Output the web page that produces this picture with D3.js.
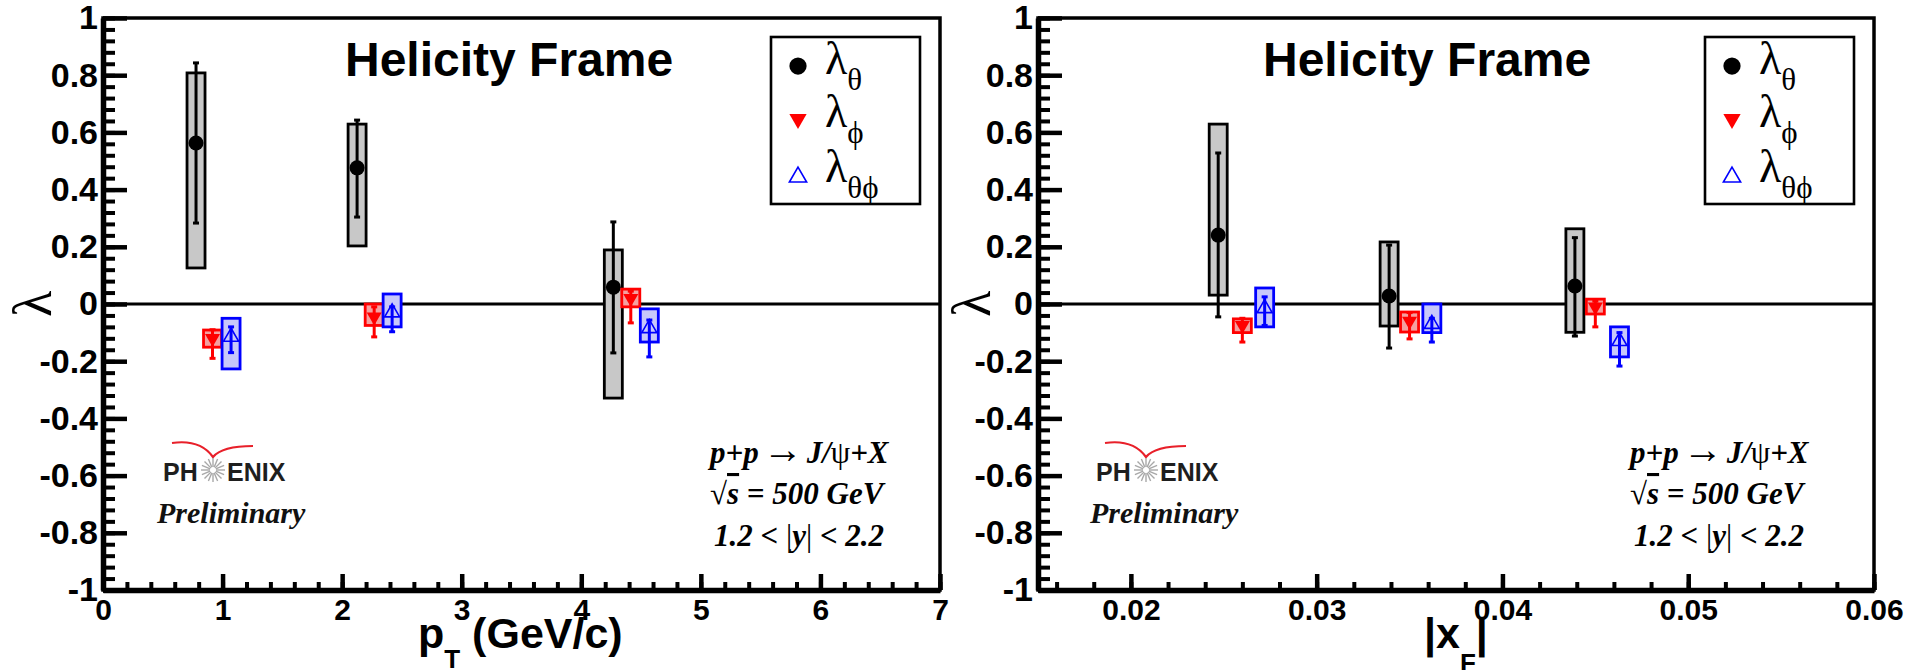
<!DOCTYPE html>
<html>
<head>
<meta charset="utf-8">
<script src="https://cdn.jsdelivr.net/npm/d3@7"></script>
<style>
  html, body { margin: 0; padding: 0; background: #ffffff; }
  svg { display: block; }
</style>
</head>
<body>
<svg id="chart" width="1922" height="670"></svg>
<script>
// ---- shared lambda axis ----
const lambdaTicks = [-1, -0.8, -0.6, -0.4, -0.2, 0, 0.2, 0.4, 0.6, 0.8, 1];
const lambdaTickLabels = ["-1", "-0.8", "-0.6", "-0.4", "-0.2", "0", "0.2", "0.4", "0.6", "0.8", "1"];

// ---- pT panel ----
const ptTicks = [0, 1, 2, 3, 4, 5, 6, 7];
const ptTickLabels = ["0", "1", "2", "3", "4", "5", "6", "7"];

const ptThetaX      = [0.778, 2.125, 4.268];
const ptThetaVal    = [0.563, 0.476, 0.059];
const ptThetaStatLo = [0.283, 0.304, -0.171];
const ptThetaStatHi = [0.843, 0.643, 0.287];
const ptThetaSysLo  = [0.126, 0.203, -0.329];
const ptThetaSysHi  = [0.808, 0.629, 0.189];

const ptPhiX      = [0.916, 2.268, 4.414];
const ptPhiVal    = [-0.120, -0.045, 0.020];
const ptPhiStatLo = [-0.190, -0.115, -0.066];
const ptPhiStatHi = [-0.090, -0.010, 0.045];
const ptPhiSysLo  = [-0.151, -0.075, -0.010];
const ptPhiSysHi  = [-0.091, 0.000, 0.052];

const ptThetaPhiX      = [1.071, 2.418, 4.569];
const ptThetaPhiVal    = [-0.115, -0.030, -0.085];
const ptThetaPhiStatLo = [-0.170, -0.097, -0.185];
const ptThetaPhiStatHi = [-0.080, -0.010, -0.056];
const ptThetaPhiSysLo  = [-0.227, -0.080, -0.133];
const ptThetaPhiSysHi  = [-0.050, 0.035, -0.017];

// ---- |xF| panel ----
const xfTicks = [0.02, 0.03, 0.04, 0.05, 0.06];
const xfTickLabels = ["0.02", "0.03", "0.04", "0.05", "0.06"];

const xfThetaX      = [0.0247, 0.0339, 0.0439];
const xfThetaVal    = [0.241, 0.028, 0.063];
const xfThetaStatLo = [-0.045, -0.154, -0.112];
const xfThetaStatHi = [0.528, 0.206, 0.232];
const xfThetaSysLo  = [0.031, -0.077, -0.099];
const xfThetaSysHi  = [0.629, 0.217, 0.263];

const xfPhiX      = [0.0260, 0.0350, 0.0450];
const xfPhiVal    = [-0.075, -0.060, -0.010];
const xfPhiStatLo = [-0.133, -0.122, -0.080];
const xfPhiStatHi = [-0.050, -0.030, 0.010];
const xfPhiSysLo  = [-0.100, -0.098, -0.035];
const xfPhiSysHi  = [-0.052, -0.028, 0.017];

const xfThetaPhiX      = [0.0272, 0.0362, 0.0463];
const xfThetaPhiVal    = [-0.015, -0.070, -0.130];
const xfThetaPhiStatLo = [-0.075, -0.133, -0.217];
const xfThetaPhiStatHi = [0.025, -0.050, -0.100];
const xfThetaPhiSysLo  = [-0.080, -0.100, -0.185];
const xfThetaPhiSysHi  = [0.056, 0.000, -0.080];

// ---- styles ----
const SANS = "'Liberation Sans', Arial, Helvetica, sans-serif";
const SERIF = "'Liberation Serif', 'Times New Roman', Times, serif";

const seriesStyle = {
  theta:    { box: "#c8c8c8", edge: "#000000", color: "#000000", bar: 3 },
  phi:      { box: "#f4a0a0", edge: "#ff0000", color: "#ff0000", bar: 3 },
  thetaPhi: { box: "#c8c8fa", edge: "#0000ff", color: "#0000ff", bar: 3 }
};
const BOX_W = 18;

function buildSeries(kind, xs, val, sLo, sHi, yLo, yHi) {
  return xs.map((x, i) => ({ kind, x, v: val[i], statLo: sLo[i], statHi: sHi[i], sysLo: yLo[i], sysHi: yHi[i] }));
}

const panels = [
  {
    left: 103, right: 940, top: 18, bottom: 590,
    xDomain: [0, 7], xTicks: ptTicks, xTickLabels: ptTickLabels,
    xMinor: d3.range(0, 36).map(i => i * 0.2),
    titleX: 242, annX: 607, lambdaX: -70, logoX: 0, xTitle: "pt",
    series: [
      buildSeries("theta", ptThetaX, ptThetaVal, ptThetaStatLo, ptThetaStatHi, ptThetaSysLo, ptThetaSysHi),
      buildSeries("phi", ptPhiX, ptPhiVal, ptPhiStatLo, ptPhiStatHi, ptPhiSysLo, ptPhiSysHi),
      buildSeries("thetaPhi", ptThetaPhiX, ptThetaPhiVal, ptThetaPhiStatLo, ptThetaPhiStatHi, ptThetaPhiSysLo, ptThetaPhiSysHi)
    ]
  },
  {
    left: 1038, right: 1874, top: 18, bottom: 590,
    xDomain: [0.015, 0.06], xTicks: xfTicks, xTickLabels: xfTickLabels,
    xMinor: d3.range(8, 31).map(i => i * 0.002),
    titleX: 225, annX: 592, lambdaX: -66, logoX: -2, xTitle: "xf",
    series: [
      buildSeries("theta", xfThetaX, xfThetaVal, xfThetaStatLo, xfThetaStatHi, xfThetaSysLo, xfThetaSysHi),
      buildSeries("phi", xfPhiX, xfPhiVal, xfPhiStatLo, xfPhiStatHi, xfPhiSysLo, xfPhiSysHi),
      buildSeries("thetaPhi", xfThetaPhiX, xfThetaPhiVal, xfThetaPhiStatLo, xfThetaPhiStatHi, xfThetaPhiSysLo, xfThetaPhiSysHi)
    ]
  }
];

const svg = d3.select("#chart");
const triArea = side => Math.sqrt(3) / 4 * side * side;

function drawMarker(sel, kind, cx, cy, scale) {
  const s = scale || 1;
  if (kind === "theta") {
    sel.append("circle").attr("cx", cx).attr("cy", cy).attr("r", 7.5 * s).attr("fill", "#000");
  } else if (kind === "phi") {
    sel.append("path")
      .attr("d", d3.symbol(d3.symbolTriangle, triArea(15 * s))())
      .attr("transform", `translate(${cx},${cy}) rotate(180)`)
      .attr("fill", "#ff0000");
  } else {
    sel.append("path")
      .attr("d", d3.symbol(d3.symbolTriangle, triArea(15 * s))())
      .attr("transform", `translate(${cx},${cy})`)
      .attr("fill", "none").attr("stroke", "#0000ff").attr("stroke-width", 1.6);
  }
}

function drawLogo(g, ox) {
  const lg = g.append("g").attr("transform", `translate(${ox},0)`);
  // red swoosh
  lg.append("path")
    .attr("d", "M69,425 Q97,421 110,439 Q119,428 150,428")
    .attr("fill", "none").attr("stroke", "#e8202a").attr("stroke-width", 2.2);
  lg.append("text").attr("x", 60).attr("y", 463)
    .attr("font-family", SANS).attr("font-weight", "bold").attr("font-size", 25)
    .attr("fill", "#1e1e1e").text("PH");
  lg.append("text").attr("x", 124).attr("y", 463)
    .attr("font-family", SANS).attr("font-weight", "bold").attr("font-size", 25)
    .attr("fill", "#1e1e1e").text("ENIX");
  // starburst
  const rays = d3.range(16).map(i => i * Math.PI / 8);
  lg.selectAll("line.ray").data(rays).enter().append("line")
    .attr("class", "ray")
    .attr("x1", a => 110 + 3 * Math.cos(a)).attr("y1", a => 452 + 3 * Math.sin(a))
    .attr("x2", a => 110 + 12 * Math.cos(a)).attr("y2", a => 452 + 12 * Math.sin(a))
    .attr("stroke", "#a8a8a8").attr("stroke-width", 1.4);
  lg.append("text").attr("x", 54).attr("y", 505)
    .attr("font-family", SERIF).attr("font-weight", "bold").attr("font-style", "italic")
    .attr("font-size", 30).attr("fill", "#111").text("Preliminary");
}

panels.forEach(p => {
  const w = p.right - p.left, h = p.bottom - p.top;
  const g = svg.append("g").attr("transform", `translate(${p.left},${p.top})`);
  const x = d3.scaleLinear().domain(p.xDomain).range([0, w]);
  const y = d3.scaleLinear().domain([-1, 1]).range([h, 0]);

  // frame
  g.append("rect").attr("width", w).attr("height", h)
    .attr("fill", "none").attr("stroke", "#000").attr("stroke-width", 3.5);

  // lambda = 0 reference line
  g.append("line").attr("x1", 0).attr("x2", w).attr("y1", y(0)).attr("y2", y(0))
    .attr("stroke", "#000").attr("stroke-width", 3.2);

  // title
  g.append("text").attr("x", p.titleX).attr("y", 58)
    .attr("font-family", SANS).attr("font-weight", "bold").attr("font-size", 48)
    .attr("fill", "#000").text("Helicity Frame");

  // data: systematic boxes, statistical bars, markers
  p.series.forEach(series => {
    const st = seriesStyle[series[0].kind];
    const sg = g.append("g").attr("class", "series-" + series[0].kind);
    sg.selectAll("rect.sys").data(series).enter().append("rect")
      .attr("class", "sys")
      .attr("x", d => x(d.x) - BOX_W / 2).attr("width", BOX_W)
      .attr("y", d => y(d.sysHi)).attr("height", d => y(d.sysLo) - y(d.sysHi))
      .attr("fill", st.box).attr("stroke", st.edge).attr("stroke-width", 2.8);
    sg.selectAll("line.stat").data(series).enter().append("line")
      .attr("class", "stat")
      .attr("x1", d => x(d.x)).attr("x2", d => x(d.x))
      .attr("y1", d => y(d.statLo)).attr("y2", d => y(d.statHi))
      .attr("stroke", st.color).attr("stroke-width", st.bar);
    ["statLo", "statHi"].forEach(k => {
      sg.selectAll("line.cap-" + k).data(series).enter().append("line")
        .attr("class", "cap-" + k)
        .attr("x1", d => x(d.x) - 3).attr("x2", d => x(d.x) + 3)
        .attr("y1", d => y(d[k])).attr("y2", d => y(d[k]))
        .attr("stroke", st.color).attr("stroke-width", 3);
    });
    series.forEach(d => drawMarker(sg, d.kind, x(d.x), y(d.v)));
  });

  // y axis: minor then major ticks, drawn inward
  const yMinor = d3.range(0, 51).map(i => -1 + i * 0.04);
  g.append("g")
    .call(d3.axisLeft(y).tickValues(yMinor).tickSize(-12).tickSizeOuter(0).tickFormat(""))
    .call(a => a.selectAll("line").attr("stroke-width", 4))
    .call(a => a.select(".domain").remove());
  const yAxis = g.append("g")
    .call(d3.axisLeft(y).tickValues(lambdaTicks).tickSize(-24).tickSizeOuter(0).tickPadding(5)
      .tickFormat((d, i) => lambdaTickLabels[i]));
  yAxis.selectAll("line").attr("stroke-width", 4.5);
  yAxis.select(".domain").attr("stroke-width", 5.5);
  yAxis.selectAll("text").attr("font-family", SANS).attr("font-weight", "bold")
    .attr("font-size", 34).attr("fill", "#000");

  // x axis
  g.append("g").attr("transform", `translate(0,${h})`)
    .call(d3.axisBottom(x).tickValues(p.xMinor).tickSize(-8).tickSizeOuter(0).tickFormat(""))
    .call(a => a.selectAll("line").attr("stroke-width", 4))
    .call(a => a.select(".domain").remove());
  const xAxis = g.append("g").attr("transform", `translate(0,${h})`)
    .call(d3.axisBottom(x).tickValues(p.xTicks).tickSize(-16).tickSizeOuter(0).tickPadding(9)
      .tickFormat((d, i) => p.xTickLabels[i]));
  xAxis.selectAll("line").attr("stroke-width", 4.5);
  xAxis.select(".domain").attr("stroke-width", 5.5);
  xAxis.selectAll("text").attr("font-family", SANS).attr("font-weight", "bold")
    .attr("font-size", 30).attr("fill", "#000");

  // lambda axis title
  g.append("text")
    .attr("transform", `translate(${p.lambdaX},${y(0)}) rotate(-90)`)
    .attr("text-anchor", "middle").attr("dominant-baseline", "central")
    .attr("font-family", SERIF).attr("font-size", 54).attr("fill", "#000").text("λ");

  // x axis title
  if (p.xTitle === "pt") {
    const t = g.append("text").attr("x", 315).attr("y", h + 58)
      .attr("font-family", SANS).attr("font-weight", "bold").attr("font-size", 43).attr("fill", "#000");
    t.append("tspan").text("p");
    t.append("tspan").attr("dy", 20).attr("font-size", 26).text("T");
    t.append("tspan").attr("dy", -20).text(" (GeV/c)");
  } else {
    const t = g.append("text").attr("x", 386).attr("y", h + 58)
      .attr("font-family", SANS).attr("font-weight", "bold").attr("font-size", 43).attr("fill", "#000");
    t.append("tspan").text("|x");
    t.append("tspan").attr("dy", 24).attr("font-size", 26).text("F");
    t.append("tspan").attr("dy", -24).text("|");
  }

  // legend
  const lx = w - 169, ly = 19;
  const leg = g.append("g").attr("transform", `translate(${lx},${ly})`);
  leg.append("rect").attr("width", 149).attr("height", 167)
    .attr("fill", "#fff").attr("stroke", "#000").attr("stroke-width", 2.6);
  const legendRows = [
    { kind: "theta", sub: "θ", cy: 29, base: 37 },
    { kind: "phi", sub: "ϕ", cy: 82, base: 90 },
    { kind: "thetaPhi", sub: "θϕ", cy: 140, base: 145 }
  ];
  legendRows.forEach(r => {
    drawMarker(leg, r.kind, 27, r.cy, 1.15);
    const t = leg.append("text").attr("x", 54).attr("y", r.base)
      .attr("font-family", SERIF).attr("font-size", 46).attr("fill", "#000");
    t.append("tspan").text("λ");
    t.append("tspan").attr("dy", 16).attr("font-size", 31).text(r.sub);
  });

  // reaction annotation
  const ann = g.append("g").attr("font-family", SERIF).attr("font-size", 31).attr("fill", "#000");
  const l1 = ann.append("text").attr("x", p.annX).attr("y", 445);
  l1.append("tspan").attr("font-weight", "bold").attr("font-style", "italic").text("p+p");
  l1.append("tspan").attr("font-size", 40).attr("dx", 4).text("→");
  l1.append("tspan").attr("font-weight", "bold").attr("font-style", "italic").attr("dx", 4).text("J/");
  l1.append("tspan").text("ψ");
  l1.append("tspan").attr("font-weight", "bold").attr("font-style", "italic").text("+X");
  const l2 = ann.append("text").attr("x", p.annX).attr("y", 486);
  l2.append("tspan").text("√");
  l2.append("tspan").attr("font-weight", "bold").attr("font-style", "italic")
    .style("text-decoration", "overline").text("s");
  l2.append("tspan").attr("font-weight", "bold").attr("font-style", "italic").text(" = 500 GeV");
  const l3 = ann.append("text").attr("x", p.annX + 4).attr("y", 528);
  l3.append("tspan").attr("font-weight", "bold").attr("font-style", "italic").text("1.2 < ");
  l3.append("tspan").text("|");
  l3.append("tspan").attr("font-weight", "bold").attr("font-style", "italic").text("y");
  l3.append("tspan").text("|");
  l3.append("tspan").attr("font-weight", "bold").attr("font-style", "italic").text(" < 2.2");

  drawLogo(g, p.logoX);
});
</script>
</body>
</html>
